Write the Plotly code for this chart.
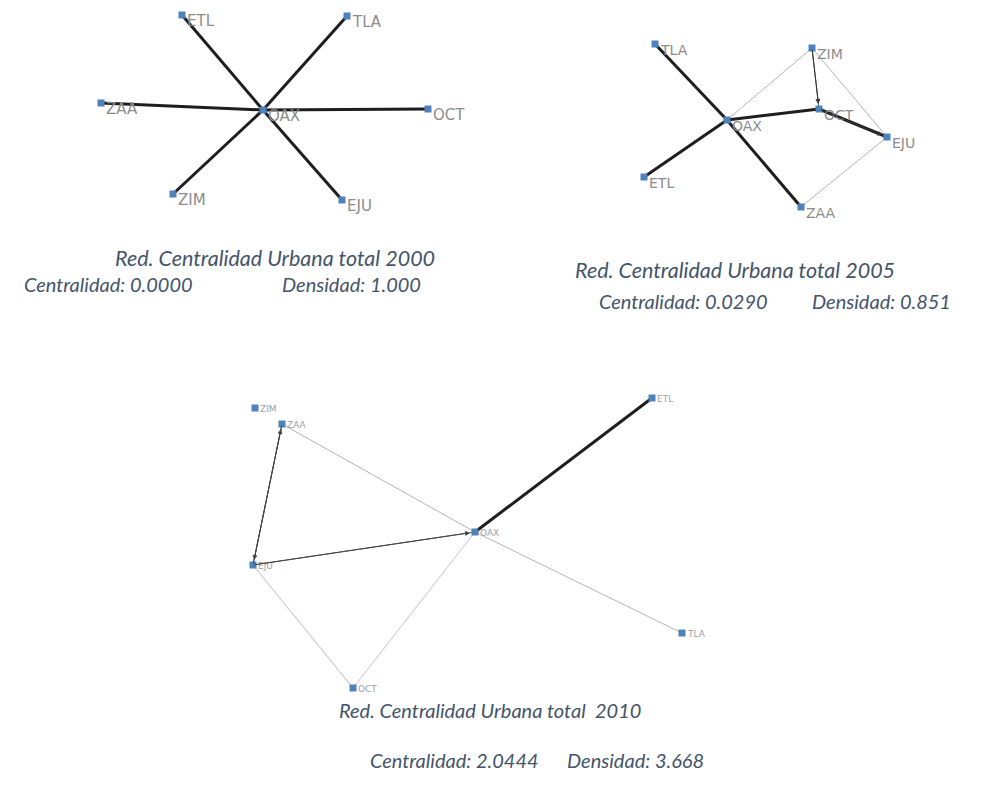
import plotly.graph_objects as go

# node positions of each network (layout coordinates)
nodes_2000 = {
    'ETL': (182, 15), 'TLA': (347, 16), 'ZAA': (101, 103), 'OAX': (263, 110),
    'OCT': (428, 109), 'ZIM': (173, 194), 'EJU': (342, 200),
}
nodes_2005 = {
    'TLA': (655, 44), 'ZIM': (812, 48), 'OAX': (727, 120), 'OCT': (819, 109),
    'EJU': (887, 137), 'ETL': (644, 177), 'ZAA': (801, 207),
}
nodes_2010 = {
    'ZIM': (255, 408), 'ZAA': (282, 424), 'ETL': (652, 398), 'OAX': (475, 532),
    'EJU': (253, 565), 'TLA': (682, 633), 'OCT': (353, 688),
}

# edges: (from, to, tie strength class)
edges_2000 = [('OAX', 'ETL', 'strong'), ('OAX', 'TLA', 'strong'), ('OAX', 'ZAA', 'strong'),
              ('OAX', 'OCT', 'strong'), ('OAX', 'ZIM', 'strong'), ('OAX', 'EJU', 'strong')]
edges_2005 = [('TLA', 'OAX', 'strong'), ('ETL', 'OAX', 'strong'), ('OAX', 'ZAA', 'strong'),
              ('OAX', 'OCT', 'strong'), ('OCT', 'EJU', 'strong'), ('ZIM', 'OCT', 'mid'),
              ('OAX', 'ZIM', 'weak'), ('ZIM', 'EJU', 'weak'), ('EJU', 'ZAA', 'weak')]
edges_2010 = [('ETL', 'OAX', 'strong'), ('ZAA', 'OAX', 'weak'), ('EJU', 'OAX', 'mid'),
              ('OAX', 'TLA', 'weak'), ('ZAA', 'EJU', 'mid'), ('EJU', 'OCT', 'light'),
              ('OCT', 'OAX', 'light')]
# directed ties drawn with an arrow head (from, to)
arrows_2005 = [('ZIM', 'OCT'), ('OCT', 'EJU')]
arrows_2010 = [('EJU', 'OAX'), ('ZAA', 'EJU'), ('EJU', 'ZAA')]

titles = ['Red. Centralidad Urbana total 2000', 'Red. Centralidad Urbana total 2005',
          'Red. Centralidad Urbana total  2010']
centralidad = ['0.0000', '0.0290', '2.0444']
densidad = ['1.000', '0.851', '3.668']

edge_style = {
    'strong': dict(color='#1e1e1e', width=3),
    'mid': dict(color='#5a5a5a', width=1),
    'weak': dict(color='#b4b4b4', width=1),
    'light': dict(color='#d9cfcf', width=1.2),
}

fig = go.Figure()


def add_network(nodes, edges, label_size, label_color, label_drop):
    for a, b, kind in edges:
        fig.add_trace(go.Scatter(
            x=[nodes[a][0], nodes[b][0]], y=[nodes[a][1], nodes[b][1]],
            mode='lines', line=edge_style[kind], hoverinfo='skip', showlegend=False
        ))
    names = list(nodes)
    fig.add_trace(go.Scatter(
        x=[nodes[n][0] for n in names], y=[nodes[n][1] for n in names],
        mode='markers', marker=dict(symbol='square', size=7, color='#4f81bd',
                                    line=dict(width=0)),
        text=names, hoverinfo='text', showlegend=False
    ))
    for n in names:
        fig.add_annotation(x=nodes[n][0], y=nodes[n][1], text=n, showarrow=False,
                           xanchor='left', yanchor='middle', xshift=3, yshift=-label_drop,
                           font=dict(family='DejaVu Sans', size=label_size, color=label_color))


add_network(nodes_2000, edges_2000, 15, '#8c8c8c', 6)
add_network(nodes_2005, edges_2005, 14, '#8c8c8c', 6)
add_network(nodes_2010, edges_2010, 9, '#a0a0a0', 1)

# arrow heads on the directed ties
for nodes, arrows, color in [(nodes_2005, arrows_2005, '#333333'), (nodes_2010, arrows_2010, '#444444')]:
    for a, b in arrows:
        fig.add_annotation(x=nodes[b][0], y=nodes[b][1], ax=nodes[a][0], ay=nodes[a][1],
                           xref='x', yref='y', axref='x', ayref='y', text='',
                           showarrow=True, arrowhead=2, arrowsize=1, arrowwidth=1,
                           arrowcolor=color, standoff=5)

# captions
cap_sizes = [21.5, 21.5, 20]
cap_pos = [(275, 258), (735, 270), (490, 710)]
stat_pos = [((22, 284), (280, 284)), ((597, 301), (810, 301)), ((368, 760), (565, 760))]
stat_font = dict(family='Lato', size=20, color='#44546a')
for i in range(3):
    fig.add_annotation(x=cap_pos[i][0], y=cap_pos[i][1], text=f'<i>{titles[i]}</i>',
                       showarrow=False, xanchor='center', yanchor='middle',
                       font=dict(family='Lato', size=cap_sizes[i], color='#44546a'))
    (cx, cy), (dx, dy) = stat_pos[i]
    fig.add_annotation(x=cx, y=cy, text=f'<i>Centralidad: {centralidad[i]}</i>',
                       showarrow=False, xanchor='left', yanchor='middle', font=stat_font)
    fig.add_annotation(x=dx, y=dy, text=f'<i>Densidad: {densidad[i]}</i>',
                       showarrow=False, xanchor='left', yanchor='middle', font=stat_font)

fig.update_layout(
    width=995, height=785,
    margin=dict(l=0, r=0, t=0, b=0),
    plot_bgcolor='white', paper_bgcolor='white',
    xaxis=dict(range=[0, 995], visible=False, fixedrange=True),
    yaxis=dict(range=[785, 0], visible=False, fixedrange=True),
)

# drop the default page margin so the figure sits at the window's top-left corner
fig.write_html("out.html", config={'displayModeBar': False},
               post_script="document.body.style.margin='0';")
